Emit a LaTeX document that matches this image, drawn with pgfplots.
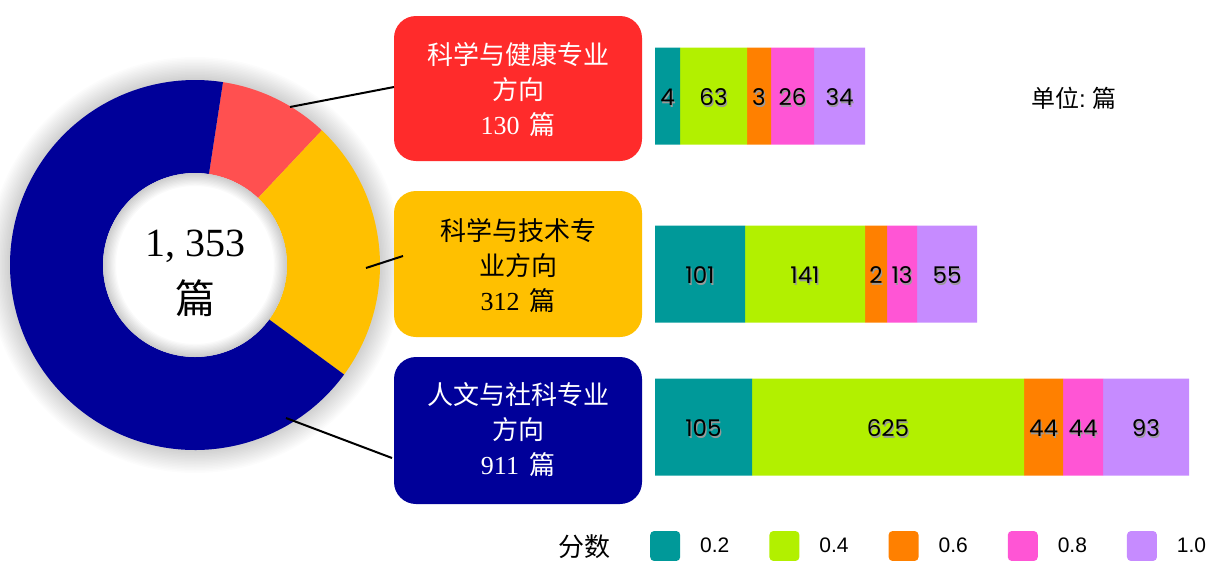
\documentclass[border=0pt]{standalone}
\usepackage{pgfplots}
\pgfplotsset{compat=1.18}
\usepackage{pgfplotstable}
\usepackage{fontspec}
\setmainfont{Liberation Serif}
\newfontfamily\cjk{Noto Sans CJK SC}
\newfontfamily\gothic{Poppins}
\newfontfamily\legfont{Liberation Sans}

\definecolor{cRed}{HTML}{FF2B2B}
\definecolor{cRedD}{HTML}{FF5050}
\definecolor{cYel}{HTML}{FFC000}
\definecolor{cBlue}{HTML}{000099}
\definecolor{sA}{HTML}{009999}
\definecolor{sB}{HTML}{B2F000}
\definecolor{sC}{HTML}{FF8000}
\definecolor{sD}{HTML}{FF55D5}
\definecolor{sE}{HTML}{C68BFF}

% drop shadow behind the bar labels
\newcommand\sh[1]{\makebox[0pt][l]{\hspace{1.2pt}\raisebox{-1.6pt}{\textcolor{black!40}{#1}}}#1}

% bar segments: row = vertical position (px from top), w = drawn width, n = count
\pgfplotstableread{
row w n
96 25 4
274 90 101
427 97 105
}\tA
\pgfplotstableread{
row w n
96 67 63
274 120 141
427 272 625
}\tB
\pgfplotstableread{
row w n
96 24 3
274 22 2
427 39 44
}\tC
\pgfplotstableread{
row w n
96 43 26
274 30 13
427 40 44
}\tD
\pgfplotstableread{
row w n
96 51 34
274 60 55
427 86 93
}\tE

\begin{document}
\begin{tikzpicture}
% donut angles from the three totals
\pgfmathsetmacro\tot{130+312+911}
\pgfmathsetmacro\aA{81.3}
\pgfmathsetmacro\aB{\aA-130/\tot*360}
\pgfmathsetmacro\aC{\aB-312/\tot*360}
\pgfmathsetmacro\aD{\aA-360}

\begin{axis}[at={(0pt,0pt)}, anchor=south west, scale only axis,
  width=1210pt, height=560pt, xmin=0, xmax=1210, ymin=0, ymax=560,
  y dir=reverse, hide axis, clip=false]
  \path (axis cs:195,265) coordinate (C);
  % soft glow
  \pgfplotsinvokeforeach{1,...,16}{
    \fill[black, opacity=0.011] (C) circle[radius=184pt+#1*1.5pt];
  }
  % sectors
  \fill[cRedD] ([shift={(\aA:185pt)}]C) arc[start angle=\aA, end angle=\aB, radius=185pt]
     -- ([shift={(\aB:92pt)}]C) arc[start angle=\aB, end angle=\aA, radius=92pt] -- cycle;
  \fill[cYel] ([shift={(\aB:185pt)}]C) arc[start angle=\aB, end angle=\aC, radius=185pt]
     -- ([shift={(\aC:92pt)}]C) arc[start angle=\aC, end angle=\aB, radius=92pt] -- cycle;
  \fill[cBlue] ([shift={(\aC:185pt)}]C) arc[start angle=\aC, end angle=\aD, radius=185pt]
     -- ([shift={(\aD:92pt)}]C) arc[start angle=\aD, end angle=\aC, radius=92pt] -- cycle;
  \fill[white] (C) circle[radius=92pt];
  \pgfplotsinvokeforeach{1,...,10}{
    \fill[black, opacity=0.018, even odd rule] (C) circle[radius=92pt] circle[radius=92pt-#1*1.3pt];
  }
  \node[font=\fontsize{40}{40}\selectfont] at (axis cs:195,246) {1, 353};
  \node[font=\cjk\fontsize{40}{40}\selectfont] at (axis cs:195,298) {篇};

  % category boxes
  \fill[cRed, rounded corners=22pt] (axis cs:394,16) rectangle (axis cs:642,161);
  \fill[cYel, rounded corners=22pt] (axis cs:394,191) rectangle (axis cs:642,337);
  \fill[cBlue, rounded corners=22pt] (axis cs:394,357) rectangle (axis cs:642,504);
  \node[text=white, align=center, font=\cjk\fontsize{26}{35}\selectfont]
    at (axis cs:518,89) {科学与健康专业\\方向\\{\rmfamily 130}\hspace{10pt}篇};
  \node[text=black, align=center, font=\cjk\fontsize{26}{35}\selectfont]
    at (axis cs:518,265) {科学与技术专\\业方向\\{\rmfamily 312}\hspace{10pt}篇};
  \node[text=white, align=center, font=\cjk\fontsize{26}{35}\selectfont]
    at (axis cs:518,430) {人文与社科专业\\方向\\{\rmfamily 911}\hspace{10pt}篇};

  % leader lines
  \draw[line width=2pt] (axis cs:290,107) -- (axis cs:394,87);
  \draw[line width=2pt] (axis cs:366,268) -- (axis cs:403,256);
  \draw[line width=2pt] (axis cs:286,418) -- (axis cs:392,458);

  \node[font=\cjk\fontsize{24}{24}\selectfont] at (axis cs:1074,98) {单位{\legfont :} 篇};
\end{axis}

\begin{axis}[at={(655pt,0pt)}, anchor=south west, scale only axis,
  width=555pt, height=560pt, xmin=0, xmax=555, ymin=0, ymax=560,
  y dir=reverse, hide axis, clip=false,
  xbar stacked, bar width=97pt,
  point meta=explicit symbolic,
  nodes near coords={\sh{\pgfplotspointmeta}},
  every node near coord/.append style={anchor=center, yshift=-2pt,
    font=\gothic\fontsize{23}{23}\selectfont, text=black},
  legend columns=-1,
  legend image code/.code={\fill[#1, draw=none, rounded corners=4pt] (0pt,-15pt) rectangle (30pt,15pt);},
  legend style={at={(axis cs:-117,546)}, anchor=west, draw=none, fill=none, inner sep=0pt,
    font=\legfont\fontsize{21}{21}\selectfont,
    cells={anchor=west, inner sep=0pt},
    /tikz/every odd column/.append style={column sep=18pt},
    /tikz/every even column/.append style={column sep=38pt}},
  ]
  \addlegendimage{empty legend}
  \addlegendentry{\cjk\fontsize{26}{26}\selectfont 分数}
  \addplot[fill=sA, draw=none] table[x=w, y=row, meta=n] {\tA};
  \addlegendentry{0.2}
  \addplot[fill=sB, draw=none] table[x=w, y=row, meta=n] {\tB};
  \addlegendentry{0.4}
  \addplot[fill=sC, draw=none] table[x=w, y=row, meta=n] {\tC};
  \addlegendentry{0.6}
  \addplot[fill=sD, draw=none] table[x=w, y=row, meta=n] {\tD};
  \addlegendentry{0.8}
  \addplot[fill=sE, draw=none] table[x=w, y=row, meta=n] {\tE};
  \addlegendentry{1.0}
\end{axis}
\pgfresetboundingbox
\path (0pt,0pt) rectangle (1210pt,560pt);
\end{tikzpicture}
\end{document}
